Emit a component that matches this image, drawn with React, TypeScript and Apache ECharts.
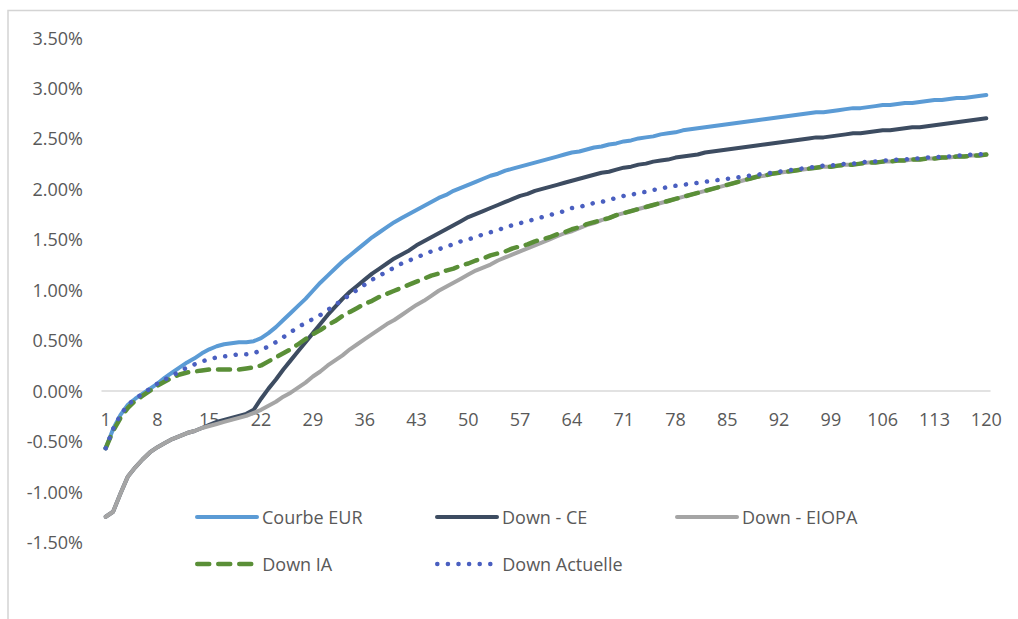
import React, { useEffect, useRef } from "react";
import * as echarts from "echarts";

const categories: string[] = Array.from({ length: 120 }, (_, i) => String(i + 1));

const courbeEUR = [
  -0.57, -0.38, -0.24, -0.14, -0.08, -0.03, 0.02, 0.07, 0.13, 0.18,
  0.23, 0.28, 0.32, 0.37, 0.41, 0.44, 0.46, 0.47, 0.48, 0.48,
  0.49, 0.52, 0.57, 0.63, 0.70, 0.77, 0.84, 0.91, 0.99, 1.07,
  1.14, 1.21, 1.28, 1.34, 1.40, 1.46, 1.52, 1.57, 1.62, 1.67,
  1.71, 1.75, 1.79, 1.83, 1.87, 1.91, 1.94, 1.98, 2.01, 2.04,
  2.07, 2.10, 2.13, 2.15, 2.18, 2.20, 2.22, 2.24, 2.26, 2.28,
  2.30, 2.32, 2.34, 2.36, 2.37, 2.39, 2.41, 2.42, 2.44, 2.45,
  2.47, 2.48, 2.50, 2.51, 2.52, 2.54, 2.55, 2.56, 2.58, 2.59,
  2.60, 2.61, 2.62, 2.63, 2.64, 2.65, 2.66, 2.67, 2.68, 2.69,
  2.70, 2.71, 2.72, 2.73, 2.74, 2.75, 2.76, 2.76, 2.77, 2.78,
  2.79, 2.80, 2.80, 2.81, 2.82, 2.83, 2.83, 2.84, 2.85, 2.85,
  2.86, 2.87, 2.88, 2.88, 2.89, 2.90, 2.90, 2.91, 2.92, 2.93,
];

const downCE = [
  -1.25, -1.20, -1.02, -0.85, -0.76, -0.68, -0.61, -0.56, -0.52, -0.48,
  -0.45, -0.42, -0.40, -0.37, -0.34, -0.31, -0.29, -0.27, -0.25, -0.23,
  -0.19, -0.08, 0.02, 0.11, 0.21, 0.30, 0.39, 0.48, 0.57, 0.66,
  0.75, 0.83, 0.91, 0.98, 1.04, 1.10, 1.16, 1.21, 1.26, 1.31,
  1.35, 1.39, 1.44, 1.48, 1.52, 1.56, 1.60, 1.64, 1.68, 1.72,
  1.75, 1.78, 1.81, 1.84, 1.87, 1.90, 1.93, 1.95, 1.98, 2.00,
  2.02, 2.04, 2.06, 2.08, 2.10, 2.12, 2.14, 2.16, 2.17, 2.19,
  2.21, 2.22, 2.24, 2.25, 2.27, 2.28, 2.29, 2.31, 2.32, 2.33,
  2.34, 2.36, 2.37, 2.38, 2.39, 2.40, 2.41, 2.42, 2.43, 2.44,
  2.45, 2.46, 2.47, 2.48, 2.49, 2.50, 2.51, 2.51, 2.52, 2.53,
  2.54, 2.55, 2.55, 2.56, 2.57, 2.58, 2.58, 2.59, 2.60, 2.61,
  2.61, 2.62, 2.63, 2.64, 2.65, 2.66, 2.67, 2.68, 2.69, 2.70,
];

const downEIOPA = [
  -1.25, -1.20, -1.02, -0.85, -0.76, -0.68, -0.61, -0.56, -0.52, -0.48,
  -0.45, -0.42, -0.40, -0.37, -0.35, -0.33, -0.31, -0.29, -0.27, -0.25,
  -0.22, -0.19, -0.15, -0.11, -0.06, -0.02, 0.03, 0.08, 0.14, 0.19,
  0.25, 0.30, 0.35, 0.41, 0.46, 0.51, 0.56, 0.61, 0.66, 0.70,
  0.75, 0.80, 0.85, 0.89, 0.94, 0.99, 1.03, 1.07, 1.11, 1.15,
  1.19, 1.22, 1.25, 1.29, 1.32, 1.35, 1.38, 1.41, 1.44, 1.47,
  1.50, 1.53, 1.56, 1.58, 1.61, 1.64, 1.66, 1.69, 1.71, 1.74,
  1.76, 1.78, 1.80, 1.82, 1.84, 1.86, 1.88, 1.90, 1.92, 1.94,
  1.96, 1.98, 2.00, 2.02, 2.04, 2.06, 2.08, 2.10, 2.12, 2.13,
  2.15, 2.16, 2.17, 2.18, 2.19, 2.20, 2.21, 2.22, 2.22, 2.23,
  2.24, 2.24, 2.25, 2.26, 2.26, 2.27, 2.27, 2.28, 2.28, 2.29,
  2.29, 2.30, 2.30, 2.31, 2.31, 2.32, 2.32, 2.33, 2.33, 2.34,
];

const downIA = [
  -0.57, -0.40, -0.27, -0.17, -0.10, -0.05, 0.00, 0.05, 0.09, 0.13,
  0.16, 0.18, 0.19, 0.20, 0.21, 0.21, 0.21, 0.21, 0.21, 0.22,
  0.23, 0.25, 0.29, 0.33, 0.37, 0.41, 0.46, 0.51, 0.56, 0.60,
  0.65, 0.69, 0.74, 0.78, 0.82, 0.86, 0.89, 0.93, 0.96, 0.99,
  1.02, 1.05, 1.08, 1.11, 1.14, 1.16, 1.19, 1.21, 1.24, 1.26,
  1.29, 1.31, 1.34, 1.36, 1.38, 1.41, 1.43, 1.45, 1.48, 1.50,
  1.52, 1.55, 1.57, 1.60, 1.62, 1.65, 1.67, 1.69, 1.71, 1.74,
  1.76, 1.78, 1.80, 1.82, 1.84, 1.86, 1.88, 1.90, 1.92, 1.94,
  1.96, 1.98, 2.00, 2.02, 2.04, 2.06, 2.08, 2.10, 2.12, 2.13,
  2.15, 2.16, 2.17, 2.18, 2.19, 2.20, 2.21, 2.22, 2.22, 2.23,
  2.24, 2.24, 2.25, 2.26, 2.26, 2.27, 2.27, 2.28, 2.28, 2.29,
  2.29, 2.30, 2.30, 2.31, 2.31, 2.32, 2.32, 2.33, 2.33, 2.34,
];

const downActuelle = [
  -0.57, -0.38, -0.24, -0.14, -0.08, -0.03, 0.02, 0.07, 0.11, 0.15,
  0.19, 0.23, 0.26, 0.29, 0.31, 0.33, 0.34, 0.35, 0.36, 0.36,
  0.37, 0.40, 0.44, 0.48, 0.53, 0.58, 0.63, 0.67, 0.71, 0.75,
  0.80, 0.85, 0.90, 0.95, 1.00, 1.05, 1.10, 1.14, 1.18, 1.22,
  1.26, 1.29, 1.32, 1.35, 1.38, 1.40, 1.43, 1.45, 1.48, 1.50,
  1.52, 1.55, 1.57, 1.59, 1.62, 1.64, 1.66, 1.68, 1.70, 1.72,
  1.74, 1.76, 1.78, 1.81, 1.82, 1.84, 1.86, 1.87, 1.89, 1.91,
  1.93, 1.94, 1.96, 1.97, 1.99, 2.00, 2.02, 2.03, 2.04, 2.05,
  2.06, 2.07, 2.08, 2.09, 2.10, 2.11, 2.12, 2.13, 2.14, 2.15,
  2.16, 2.17, 2.18, 2.19, 2.20, 2.21, 2.22, 2.23, 2.23, 2.24,
  2.25, 2.25, 2.26, 2.27, 2.27, 2.28, 2.28, 2.29, 2.29, 2.30,
  2.30, 2.31, 2.31, 2.32, 2.32, 2.33, 2.33, 2.34, 2.34, 2.35,
];

const yTicks = { min: -1.5, max: 3.5, interval: 0.5 };

const FONT = "'Open Sans', sans-serif";
const TXT = "#595959";

export default function App() {
  const ref = useRef<HTMLDivElement>(null);

  useEffect(() => {
    if (!ref.current) return;
    const chart = echarts.init(ref.current, null, { renderer: "svg" });

    const legendBase = {
      orient: "horizontal",
      padding: 0,
      itemWidth: 60,
      itemHeight: 14,
      itemStyle: { opacity: 0 },
      textStyle: { fontSize: 18, color: TXT, fontFamily: FONT },
      selectedMode: false,
    };

    chart.setOption({
      animation: false,
      backgroundColor: "#ffffff",
      textStyle: { fontFamily: FONT },
      graphic: [
        {
          type: "rect",
          shape: { x: 8, y: 10.5, width: 1100, height: 700 },
          style: { fill: "none", stroke: "#D4D4D4", lineWidth: 1.5 },
          silent: true,
        },
      ],
      grid: { left: 102, right: 28, top: 37.5, bottom: 77, containLabel: false },
      legend: [
        { ...legendBase, data: ["Courbe EUR"], left: 195, top: 508, lineStyle: { width: 4 } },
        { ...legendBase, data: ["Down - CE"], left: 435, top: 508, lineStyle: { width: 4 } },
        { ...legendBase, data: ["Down - EIOPA"], left: 675, top: 508, lineStyle: { width: 4 } },
        { ...legendBase, data: ["Down IA"], left: 195, top: 555, lineStyle: { width: 4.5 } },
        { ...legendBase, data: ["Down Actuelle"], left: 435, top: 555, lineStyle: { width: 4.5 } },
      ],
      xAxis: {
        type: "category",
        data: categories,
        boundaryGap: true,
        position: "bottom",
        offset: -151.5,
        axisLine: { onZero: false, lineStyle: { color: "#D9D9D9", width: 1.5 } },
        axisTick: { show: false },
        axisLabel: {
          interval: 6,
          fontSize: 18,
          color: TXT,
          fontFamily: FONT,
          margin: 19,
        },
        splitLine: { show: false },
      },
      yAxis: {
        type: "value",
        min: yTicks.min,
        max: yTicks.max,
        interval: yTicks.interval,
        axisLine: { show: false },
        axisTick: { show: false },
        splitLine: { show: false },
        axisLabel: {
          fontSize: 18,
          color: TXT,
          fontFamily: FONT,
          margin: 19,
          formatter: (v: number) => v.toFixed(2) + "%",
        },
      },
      series: [
        {
          name: "Courbe EUR",
          type: "line",
          data: courbeEUR,
          symbol: "none",
          color: "#5B9BD5",
          lineStyle: { width: 4, color: "#5B9BD5", cap: "round", join: "round" },
        },
        {
          name: "Down - CE",
          type: "line",
          data: downCE,
          symbol: "none",
          color: "#3D4C61",
          lineStyle: { width: 4, color: "#3D4C61", cap: "round", join: "round" },
        },
        {
          name: "Down - EIOPA",
          type: "line",
          data: downEIOPA,
          symbol: "none",
          color: "#A5A5A5",
          lineStyle: { width: 4, color: "#A5A5A5", cap: "round", join: "round" },
        },
        {
          name: "Down IA",
          type: "line",
          data: downIA,
          symbol: "none",
          color: "#5A8F37",
          lineStyle: { width: 4.5, color: "#5A8F37", type: [12, 9], cap: "round", join: "round" },
        },
        {
          name: "Down Actuelle",
          type: "line",
          data: downActuelle,
          symbol: "none",
          color: "#4A5FC0",
          lineStyle: { width: 4.5, color: "#4A5FC0", type: [0.1, 10.5], cap: "round", join: "round" },
        },
      ],
    });

    return () => chart.dispose();
  }, []);

  return (
    <div
      ref={ref}
      style={{ position: "absolute", left: 0, top: 0, width: 1018, height: 619, background: "#fff" }}
    />
  );
}
